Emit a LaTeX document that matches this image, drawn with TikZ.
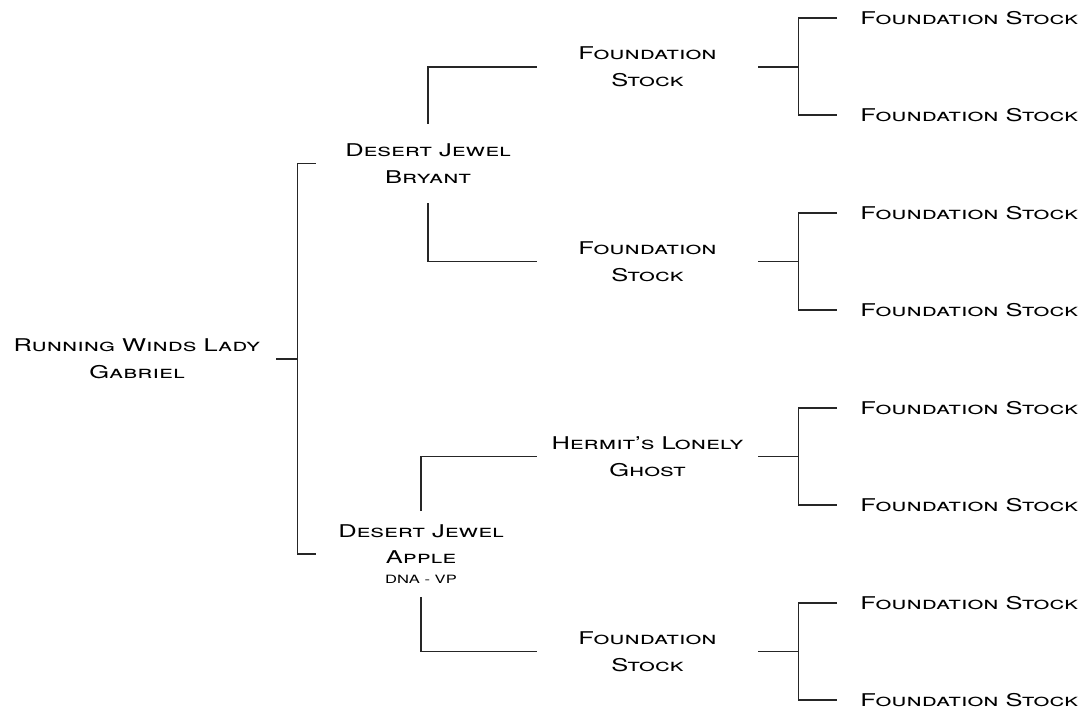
\documentclass[tikz,border=0pt]{standalone}
\usepackage{fontspec}
\setmainfont[FakeStretch=1.45]{TeX Gyre Heros}
\usetikzlibrary{positioning}

\begin{document}
\begin{tikzpicture}[x=0.02cm,y=-0.02cm,
    horse/.style={font=\fontsize{10}{15.3}\selectfont\scshape, align=center, inner sep=0pt},
    link/.style={line width=0.9pt, black!85}]
    \useasboundingbox (0,0) rectangle (1086,710);

    % Horse and parents
    \node[horse, minimum width=5.56cm] (root) at (137,359) {Running Winds Lady\\Gabriel};
    \node[horse, minimum width=4.48cm, minimum height=1.58cm] (bryant) at (428,163.5) {Desert Jewel\\Bryant};
    \node[horse, minimum width=4.2cm, minimum height=1.7cm] (apple) at (421,554)
        {Desert Jewel\\Apple\\[-4pt]{\fontsize{6.5}{7}\selectfont DNA - VP}};

    % Grandparents
    \node[horse, minimum width=4.42cm] (fs1) at (647.5,67) {Foundation\\Stock};
    \node[horse, minimum width=4.42cm] (fs2) at (647.5,261.5) {Foundation\\Stock};
    \node[horse, minimum width=4.42cm] (hermit) at (647.5,456.5) {Hermit's Lonely\\Ghost};
    \node[horse, minimum width=4.42cm] (fs4) at (647.5,651.5) {Foundation\\Stock};

    % Great-grandparents
    \foreach \n/\y in {1/18,2/115,3/213,4/310,5/408,6/505,7/603,8/700}
        \node[horse, inner xsep=0.46cm, anchor=west] (g\n) at (837,\y) {Foundation Stock};

    % Lines
    \draw[link] (root.east) -- ++(21,0) coordinate (split);
    \draw[link] (bryant.west) -| (split) |- (apple.west);
    \draw[link] (bryant.north) |- (fs1.west);
    \draw[link] (bryant.south) |- (fs2.west);
    \draw[link] (apple.north) |- (hermit.west);
    \draw[link] (apple.south) |- (fs4.west);
    \foreach \p/\a/\b in {fs1/1/2, fs2/3/4, hermit/5/6, fs4/7/8} {
        \draw[link] (\p.east) -- ++(40,0) coordinate (k\a);
        \draw[link] (g\a.west) -| (k\a) |- (g\b.west);
    }
\end{tikzpicture}
\end{document}
